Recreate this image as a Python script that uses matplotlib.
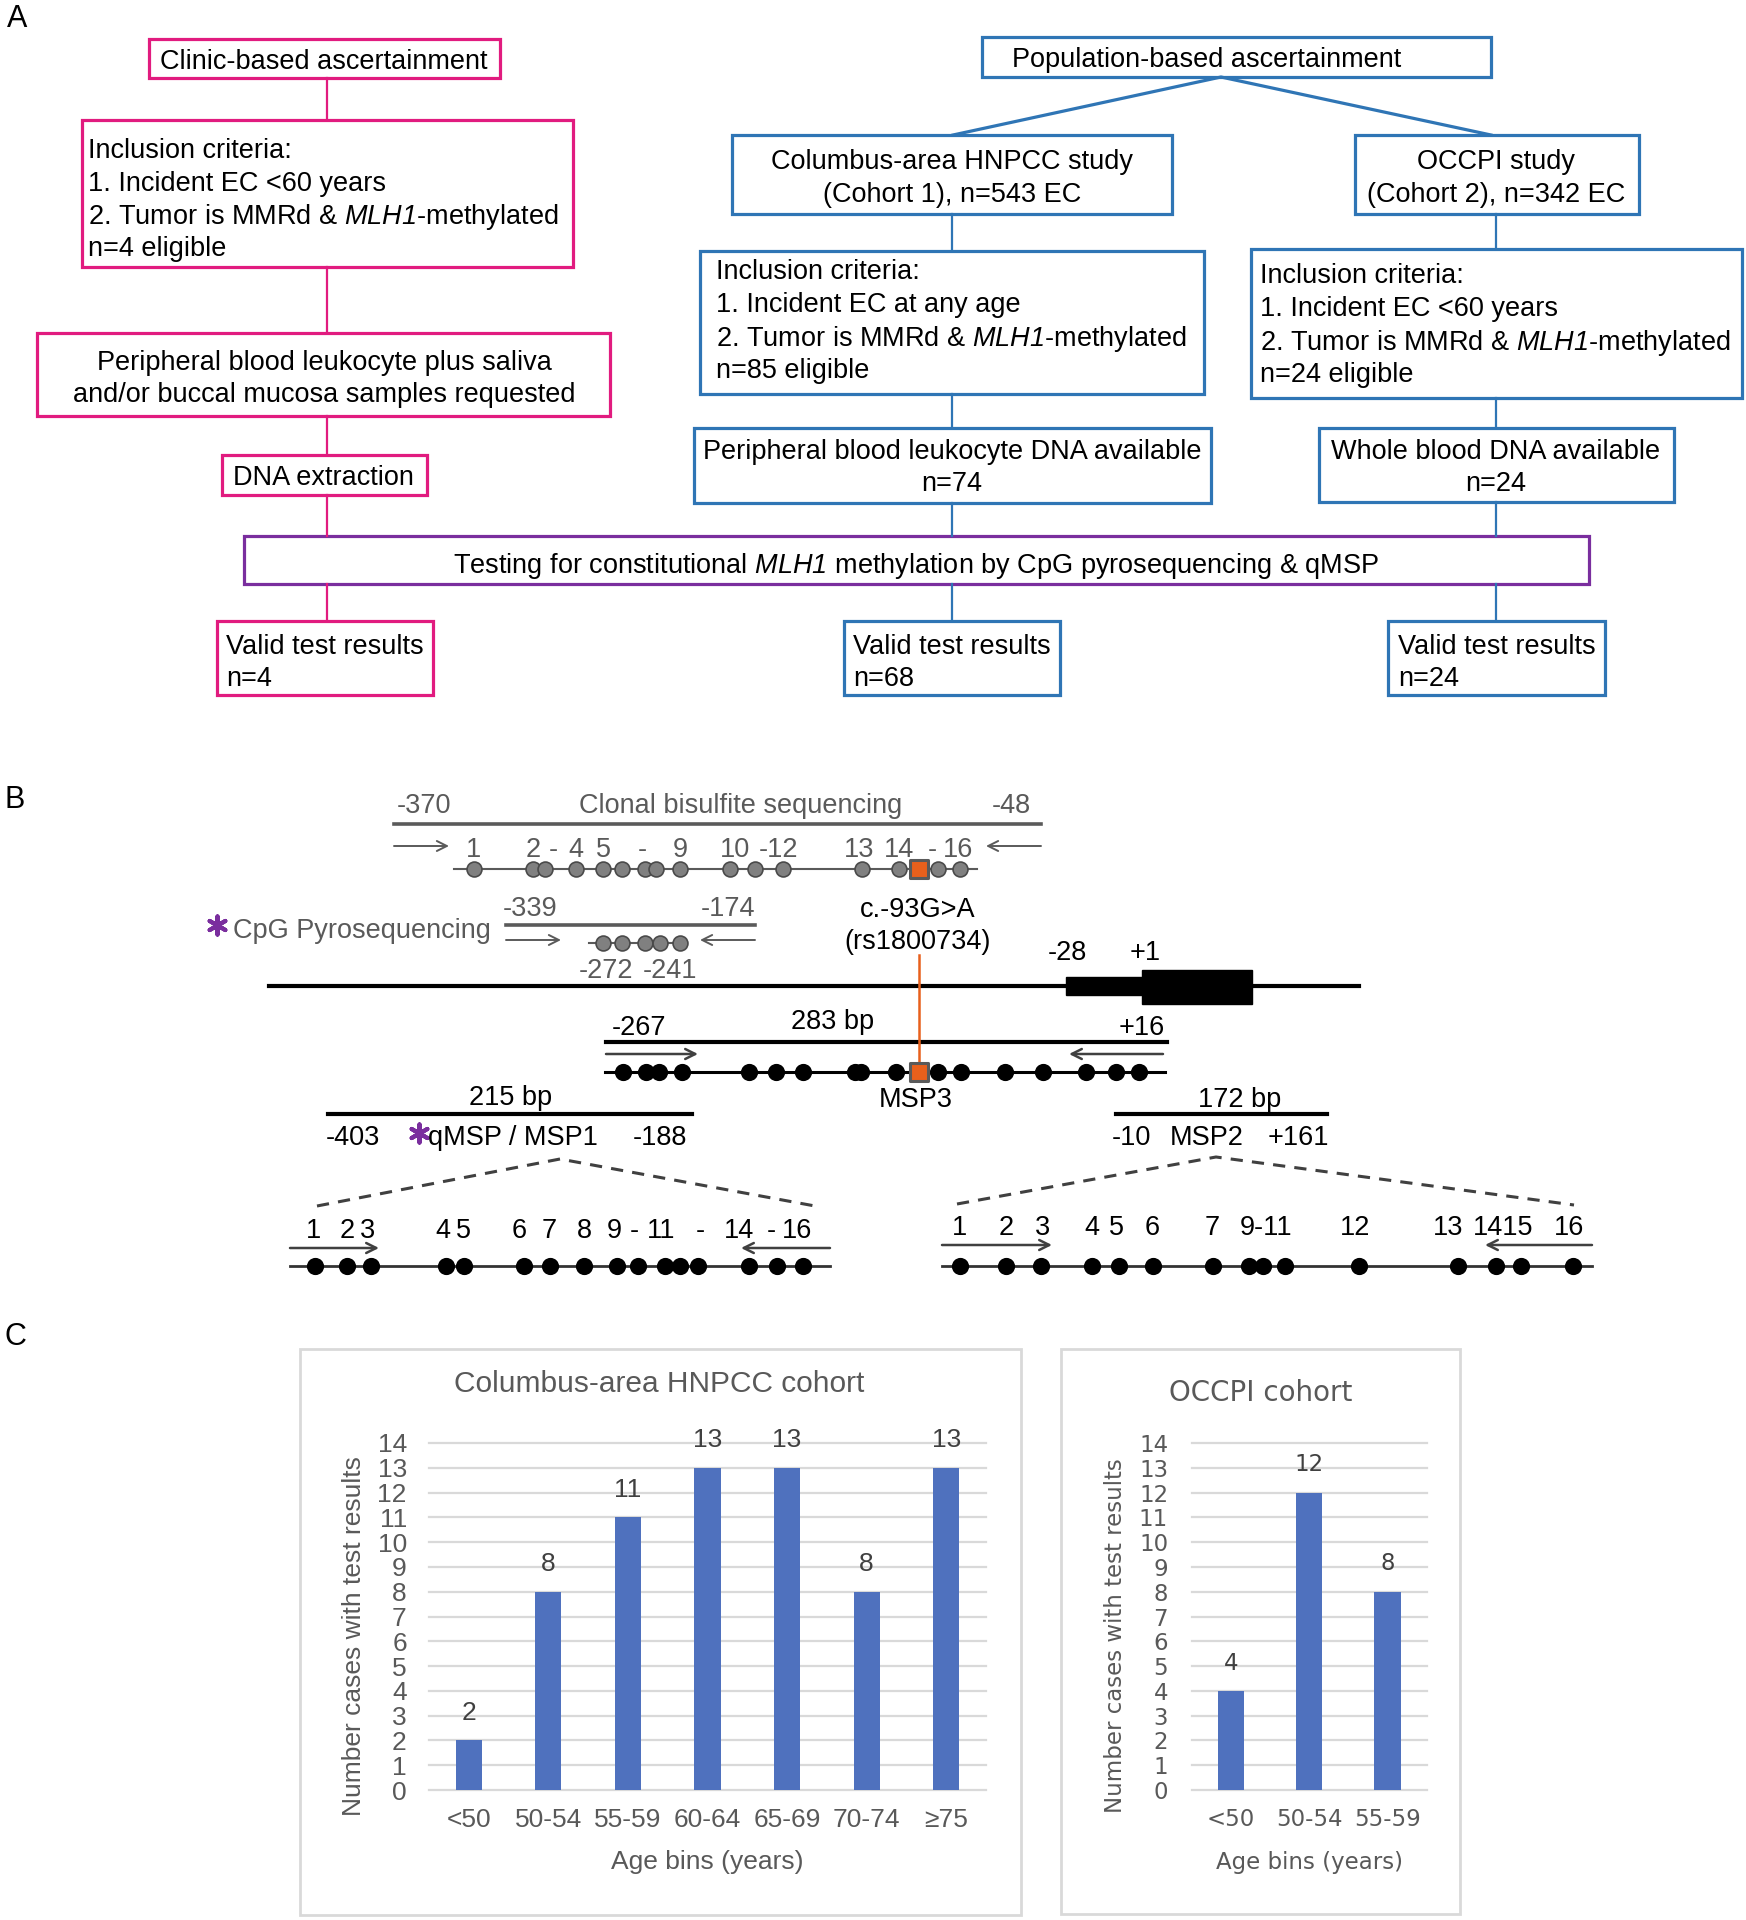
import numpy as np
import matplotlib
matplotlib.use("Agg")
import matplotlib.pyplot as plt
from matplotlib.patches import Rectangle

plt.rcParams['font.family'] = ['Liberation Sans', 'DejaVu Sans']
# \mathrm is mapped to the italic face so the digit in MLH1 is italic too
plt.rcParams['mathtext.fontset'] = 'custom'
plt.rcParams['mathtext.rm'] = 'Liberation Sans:italic'
plt.rcParams['mathtext.it'] = 'Liberation Sans:italic'

# ---- data: panel C ----
hnpcc_bins = ["<50", "50-54", "55-59", "60-64", "65-69", "70-74", "≥75"]
hnpcc_counts = [2, 8, 11, 13, 13, 8, 13]
occpi_bins = ["<50", "50-54", "55-59"]
occpi_counts = [4, 12, 8]

# ---- data: panel B (CpG sites along the diagram, drawing units) ----
clonal_cpg = [474, 533, 545, 576, 603, 622, 645, 656, 680, 730, 755, 783, 862, 899, 938, 960]
clonal_labels = ["1", "2", "-", "4", "5", "-", "9", "10", "-12", "13", "14", "-", "16"]
clonal_label_x = [474, 533, 553, 576, 603, 642, 680, 735, 779, 859, 899, 932, 958]
pyro_cpg = [603, 622, 645, 660, 680]
snp_x = 919
msp3_cpg = [623, 646, 659, 682, 749, 776, 803, 855, 861, 896, 938, 961, 1005, 1043, 1086, 1116, 1139]
msp1_cpg = [315, 347, 371, 446, 464, 524, 550, 584, 617, 638, 665, 680, 698, 749, 777, 803]
msp1_labels = ["1", "2", "3", "4", "5", "6", "7", "8", "9", "-", "11", "-", "14", "-", "16"]
msp1_label_x = [314, 347, 368, 443, 463, 519, 549, 584, 614, 634, 661, 700, 739, 771, 797]
msp2_cpg = [960, 1006, 1041, 1092, 1119, 1153, 1213, 1249, 1263, 1285, 1359, 1458, 1496, 1521, 1573]
msp2_labels = ["1", "2", "3", "4", "5", "6", "7", "9-11", "12", "13", "1415", "16"]
msp2_label_x = [959, 1006, 1043, 1092, 1116, 1152, 1212, 1266, 1355, 1448, 1503, 1569]

PINK, BLUE, PURPLE = "#E11B7F", "#2F75B5", "#7A2E9E"
GRAY, ORANGE, BAR = "#5a5a5a", "#E8601C", "#4F71BE"
FS = 19.5

fig = plt.figure(figsize=(17.46, 19.2), dpi=100)
ax = fig.add_axes([0, 0, 1, 1])
ax.set_xlim(0, 1746)
ax.set_ylim(1920, 0)
ax.axis("off")


def box(x0, y0, x1, y1, color):
    ax.add_patch(Rectangle((x0, y0), x1 - x0, y1 - y0, fill=False, ec=color, lw=2.3, clip_on=False))


def link(x, y0, y1, color):
    ax.plot([x, x], [y0, y1], color=color, lw=1.6)


def write(x, y, rows, ha="left", dy=32.7, color="black", fs=FS):
    for i, r in enumerate(rows):
        ax.text(x, y + i * dy, r, ha=ha, va="center_baseline", fontsize=fs, color=color)


def arrow(x0, x1, y, color, lw=1.8):
    ax.annotate("", xy=(x1, y), xytext=(x0, y),
                arrowprops=dict(arrowstyle="->", lw=lw, color=color, mutation_scale=18,
                                shrinkA=0, shrinkB=0))


def cpg_row(xs, y, x0, x1, fc, ec, lcolor, lw, s):
    ax.plot([x0, x1], [y, y], color=lcolor, lw=lw, zorder=2)
    ax.scatter(xs, [y] * len(xs), s=s, fc=fc, ec=ec, lw=1.2, zorder=3)


MLH1 = r"$\mathrm{MLH1}$"

# ================= Panel A =================
ax.text(17, 19, "A", fontsize=22, ha="center", va="center")

box(149, 39, 500, 78, PINK)
write(324, 59, ["Clinic-based ascertainment"], ha="center")
box(82, 120, 573, 267, PINK)
write(88, 148, ["Inclusion criteria:", "1. Incident EC <60 years",
                "2. Tumor is MMRd & " + MLH1 + "-methylated", "n=4 eligible"])
box(37, 333, 610, 416, PINK)
write(324, 360, ["Peripheral blood leukocyte plus saliva",
                 "and/or buccal mucosa samples requested"], ha="center", dy=32)
box(222, 455, 427, 495, PINK)
write(323, 475, ["DNA extraction"], ha="center")
box(217, 621, 433, 695, PINK)
write(226, 644, ["Valid test results", "n=4"], dy=32)
for y0, y1 in [(78, 120), (267, 333), (416, 455), (495, 536), (584, 621)]:
    link(327, y0, y1, PINK)

box(244, 536, 1589, 584, PURPLE)
write(916, 562, ["Testing for constitutional " + MLH1 + " methylation by CpG pyrosequencing & qMSP"],
      ha="center")

box(982, 37, 1491, 77, BLUE)
write(1012, 57, ["Population-based ascertainment"])
ax.plot([953, 1221, 1491], [135, 77, 135], color=BLUE, lw=2.3)

box(732, 135, 1172, 214, BLUE)
write(952, 159, ["Columbus-area HNPCC study", "(Cohort 1), n=543 EC"], ha="center", dy=33)
box(1355, 135, 1639, 214, BLUE)
write(1496, 159, ["OCCPI study", "(Cohort 2), n=342 EC"], ha="center", dy=33)
box(700, 251, 1204, 394, BLUE)
write(716, 269, ["Inclusion criteria:", "1. Incident EC at any age",
                 "2. Tumor is MMRd & " + MLH1 + "-methylated", "n=85 eligible"], dy=33)
box(1251, 249, 1742, 398, BLUE)
write(1260, 273, ["Inclusion criteria:", "1. Incident EC <60 years",
                  "2. Tumor is MMRd & " + MLH1 + "-methylated", "n=24 eligible"], dy=33)
box(694, 428, 1211, 503, BLUE)
write(952, 449, ["Peripheral blood leukocyte DNA available", "n=74"], ha="center", dy=32)
box(1319, 428, 1674, 502, BLUE)
write(1496, 449, ["Whole blood DNA available", "n=24"], ha="center", dy=32)
box(844, 621, 1060, 695, BLUE)
write(853, 644, ["Valid test results", "n=68"], dy=32)
box(1388, 621, 1605, 695, BLUE)
write(1398, 644, ["Valid test results", "n=24"], dy=32)
for y0, y1 in [(214, 251), (394, 428), (503, 536), (584, 621)]:
    link(952, y0, y1, BLUE)
for y0, y1 in [(214, 249), (398, 428), (502, 536), (584, 621)]:
    link(1496, y0, y1, BLUE)

# ================= Panel B =================
ax.text(15, 800, "B", fontsize=22, ha="center", va="center")

# clonal bisulfite sequencing
write(424, 803, ["-370"], ha="center", color=GRAY)
write(741, 803, ["Clonal bisulfite sequencing"], ha="center", color=GRAY)
write(1011, 803, ["-48"], ha="center", color=GRAY)
ax.plot([394, 1041], [824, 824], color=GRAY, lw=2.6)
arrow(394, 449, 846, GRAY, lw=1.4)
arrow(1041, 986, 846, GRAY, lw=1.4)
for t, x in zip(clonal_labels, clonal_label_x):
    write(x, 847, [t], ha="center", color=GRAY)
cpg_row(clonal_cpg, 869, 454, 977, "#808080", "#4a4a4a", GRAY, 1.5, 115)
ax.scatter([snp_x], [869], marker="s", s=150, fc=ORANGE, ec=GRAY, lw=2.2, zorder=4)

# pyrosequencing
ax.scatter([217], [925], marker=(6, 2, 0), s=170, color=PURPLE, lw=3)
write(233, 928, ["CpG Pyrosequencing"], color=GRAY)
write(530, 906, ["-339"], ha="center", color=GRAY)
write(728, 906, ["-174"], ha="center", color=GRAY)
ax.plot([506, 755], [925, 925], color=GRAY, lw=2.6)
arrow(506, 561, 940, GRAY, lw=1.4)
arrow(755, 700, 940, GRAY, lw=1.4)
cpg_row(pyro_cpg, 943, 589, 687, "#808080", "#4a4a4a", GRAY, 1.5, 115)
write(606, 968, ["-272"], ha="center", color=GRAY)
write(670, 968, ["-241"], ha="center", color=GRAY)

# SNP annotation
write(918, 907, ["c.-93G>A"], ha="center")
write(918, 939, ["(rs1800734)"], ha="center")

# gene
ax.plot([269, 1359], [986, 986], color="black", lw=3, zorder=2)
ax.add_patch(Rectangle((1066, 977), 76, 18, color="black", zorder=2))
ax.add_patch(Rectangle((1142, 970), 110, 34, color="black", zorder=2))
write(1067, 950, ["-28"], ha="center")
write(1145, 950, ["+1"], ha="center")
ax.plot([snp_x, snp_x], [955, 1072], color=ORANGE, lw=1.8, zorder=3)

# MSP3
write(639, 1025, ["-267"], ha="center")
write(833, 1019, ["283 bp"], ha="center")
write(1142, 1025, ["+16"], ha="center")
ax.plot([606, 1167], [1042, 1042], color="black", lw=3)
arrow(606, 698, 1054, "#404040")
arrow(1163, 1069, 1054, "#404040")
cpg_row(msp3_cpg, 1072, 605, 1165, "black", "black", "black", 2.2, 125)
ax.scatter([snp_x], [1072], marker="s", s=150, fc=ORANGE, ec=GRAY, lw=2.2, zorder=4)
write(916, 1097, ["MSP3"], ha="center")

# MSP1 / qMSP
write(511, 1095, ["215 bp"], ha="center")
ax.plot([328, 692], [1114, 1114], color="black", lw=3)
write(353, 1135, ["-403"], ha="center")
ax.scatter([419], [1133], marker=(6, 2, 0), s=170, color=PURPLE, lw=3)
write(428, 1135, ["qMSP / MSP1"])
write(660, 1135, ["-188"], ha="center")
ax.plot([317, 560, 815], [1206, 1159, 1206], color="#404040", lw=2.2, ls=(0, (4, 3)))
for t, x in zip(msp1_labels, msp1_label_x):
    write(x, 1228, [t], ha="center")
arrow(290, 379, 1248, "#404040")
arrow(830, 741, 1248, "#404040")
cpg_row(msp1_cpg, 1266, 290, 830, "black", "black", "#333333", 2.0, 125)

# MSP2
write(1240, 1097, ["172 bp"], ha="center")
ax.plot([1116, 1327], [1114, 1114], color="black", lw=3)
write(1131, 1135, ["-10"], ha="center")
write(1207, 1135, ["MSP2"], ha="center")
write(1298, 1135, ["+161"], ha="center")
ax.plot([957, 1216, 1574], [1204, 1157, 1205], color="#404040", lw=2.2, ls=(0, (4, 3)))
for t, x in zip(msp2_labels, msp2_label_x):
    write(x, 1225, [t], ha="center")
arrow(942, 1052, 1245, "#404040")
arrow(1592, 1485, 1245, "#404040")
cpg_row(msp2_cpg, 1266, 942, 1592, "black", "black", "#333333", 2.0, 125)

# ================= Panel C =================
ax.text(15, 1337, "C", fontsize=22, ha="center", va="center")
ax.add_patch(Rectangle((300, 1349), 721, 566, fill=False, ec="#d9d9d9", lw=2))
ax.add_patch(Rectangle((1061, 1349), 399, 565, fill=False, ec="#d9d9d9", lw=2))
ax.text(659, 1381, "Columbus-area HNPCC cohort", fontsize=21.5, color="#595959",
        ha="center", va="center_baseline")
ax.text(1261, 1390, "OCCPI cohort", fontsize=20, color="#595959", family="DejaVu Sans",
        ha="center", va="center_baseline")

W, H = 1746.0, 1920.0
y_bot, y_top = 1790, 1443


def bar_chart(rect, bins, counts, width, fam, fs, ylab_x, ypad):
    a = fig.add_axes(rect)
    x = np.arange(len(bins))
    a.bar(x, counts, width=width, color=BAR, zorder=3)
    a.set_xlim(-0.5, len(bins) - 0.5)
    a.set_ylim(0, 14)
    a.set_yticks(range(15))
    a.set_xticks(x, bins)
    a.grid(axis="y", color="#d9d9d9", lw=1.6)
    a.set_axisbelow(True)
    for g in a.get_ygridlines():
        g.set_clip_on(False)
    for s in a.spines.values():
        s.set_visible(False)
    a.tick_params(axis="y", length=0, labelsize=fs, labelcolor="#595959", pad=ypad)
    a.tick_params(axis="x", length=0, labelsize=fs, labelcolor="#595959", pad=13)
    for lab in a.get_xticklabels() + a.get_yticklabels():
        lab.set_family(fam)
    for xi, c in zip(x, counts):
        a.annotate(str(c), (xi, c), xytext=(0, 20), textcoords="offset points",
                   ha="center", va="center", fontsize=fs, color="#404040", family=fam)
    a.set_ylabel("Number cases with test results", fontsize=fs, color="#595959",
                 family=fam, va="center")
    a.yaxis.set_label_coords(ylab_x, 0.444)
    a.set_xlabel("Age bins (years)", fontsize=fs, color="#595959", family=fam, va="center")
    a.xaxis.set_label_coords(0.5, -(1862 - y_bot) / (y_bot - y_top))
    return a


h = (y_bot - y_top) / H
b = (H - y_bot) / H
bar_chart([429 / W, b, 557 / W, h], hnpcc_bins, hnpcc_counts, 0.33,
          ["Liberation Sans", "DejaVu Sans"], 19, (354 - 429) / 557, 16)
bar_chart([1191.7 / W, b, 235 / W, h], occpi_bins, occpi_counts, 0.336,
          ["DejaVu Sans"], 16.5, (1115 - 1191.7) / 235, 17)

fig.savefig("out.png", dpi=100)
